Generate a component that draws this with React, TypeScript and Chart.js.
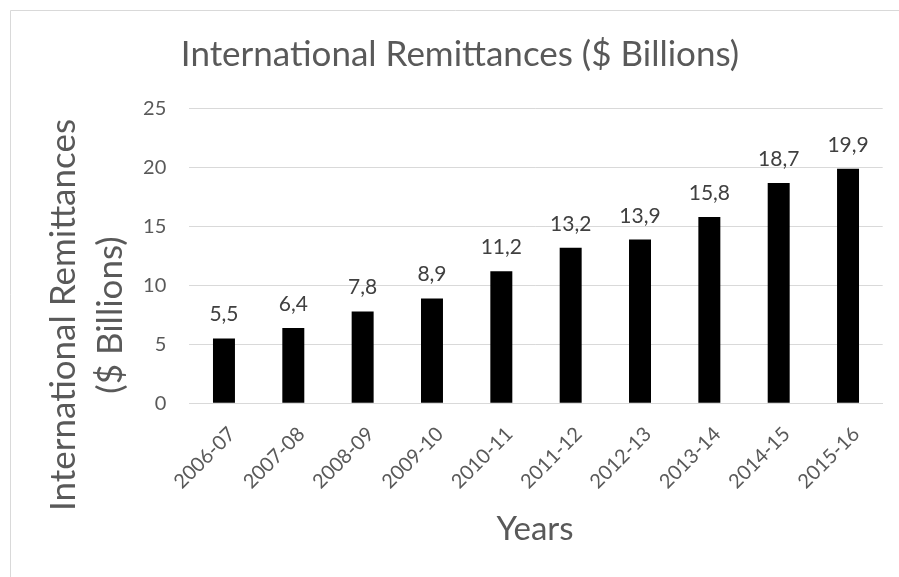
import React, { useEffect, useRef } from "react";
import { Chart, registerables } from "chart.js";

Chart.register(...registerables);

const categories = ["2006-07", "2007-08", "2008-09", "2009-10", "2010-11", "2011-12", "2012-13", "2013-14", "2014-15", "2015-16"];
const remittances = [5.5, 6.4, 7.8, 8.9, 11.2, 13.2, 13.9, 15.8, 18.7, 19.9];
const chartTitle = "International Remittances ($ Billions)";
const yTitleLines = ["International Remittances", "($ Billions)"];
const xTitle = "Years";

const FONT = "Lato, 'Open Sans', sans-serif";
const W = 899;
const H = 577;

export default function App() {
  const ref = useRef<HTMLCanvasElement | null>(null);

  useEffect(() => {
    const canvas = ref.current;
    if (!canvas) return;

    const framePlugin = {
      id: "frame",
      beforeDraw(chart: any) {
        const ctx = chart.ctx;
        ctx.save();
        ctx.fillStyle = "#ffffff";
        ctx.fillRect(0, 0, W, H);
        ctx.strokeStyle = "#d9d9d9";
        ctx.lineWidth = 1;
        ctx.beginPath();
        ctx.moveTo(10.5, H + 5);
        ctx.lineTo(10.5, 10.5);
        ctx.lineTo(W + 5, 10.5);
        ctx.stroke();
        ctx.restore();
      },
      afterDraw(chart: any) {
        const ctx = chart.ctx;
        ctx.save();
        ctx.fillStyle = "#595959";
        ctx.textAlign = "center";
        ctx.textBaseline = "alphabetic";
        ctx.font = `35px ${FONT}`;
        ctx.fillText(chartTitle, 460, 66);
        ctx.font = `33px ${FONT}`;
        ctx.fillText(xTitle, 535, 540);
        ctx.font = `35px ${FONT}`;
        const xs = [75, 122];
        yTitleLines.forEach((line, i) => {
          ctx.save();
          ctx.translate(xs[i], 315);
          ctx.rotate(-Math.PI / 2);
          ctx.fillText(line, 0, 0);
          ctx.restore();
        });
        ctx.restore();
      },
    };

    const labelPlugin = {
      id: "barLabels",
      afterDatasetsDraw(chart: any) {
        const ctx = chart.ctx;
        const meta = chart.getDatasetMeta(0);
        ctx.save();
        ctx.fillStyle = "#404040";
        ctx.font = `21px ${FONT}`;
        ctx.textAlign = "center";
        ctx.textBaseline = "alphabetic";
        meta.data.forEach((bar: any, i: number) => {
          const v = remittances[i];
          ctx.fillText(v.toFixed(1).replace(".", ","), bar.x, bar.y - 17);
        });
        ctx.restore();
      },
    };

    const chart = new Chart(canvas, {
      type: "bar",
      data: {
        labels: categories,
        datasets: [
          {
            data: remittances,
            backgroundColor: "#000000",
            borderWidth: 0,
            barPercentage: 0.317,
            categoryPercentage: 1,
          },
        ],
      },
      options: {
        responsive: false,
        animation: false,
        devicePixelRatio: 1,
        layout: { padding: { top: 108.7, right: 16.3, left: 0, bottom: 0 } },
        plugins: {
          legend: { display: false },
          title: { display: false },
          tooltip: { enabled: false },
        },
        scales: {
          x: {
            grid: { display: false, drawTicks: false },
            border: { display: true, color: "#d9d9d9", width: 1 },
            ticks: {
              color: "#595959",
              font: { family: FONT, size: 20 },
              minRotation: 45,
              maxRotation: 45,
              padding: 19,
              labelOffset: 8,
              autoSkip: false,
            },
            afterFit(scale: any) {
              scale.height = H - 403.3;
            },
          },
          y: {
            min: 0,
            max: 25,
            grid: { color: "#d9d9d9", drawTicks: false, lineWidth: 1 },
            border: { display: false },
            ticks: {
              stepSize: 5,
              color: "#595959",
              font: { family: FONT, size: 20 },
              padding: 23,
            },
            afterFit(scale: any) {
              scale.width = 189.3;
            },
          },
        },
      },
      plugins: [framePlugin, labelPlugin],
    });

    return () => chart.destroy();
  }, []);

  return (
    <div style={{ position: "absolute", left: 0, top: 0, width: W, height: H }}>
      <canvas ref={ref} width={W} height={H} style={{ width: W, height: H, display: "block" }} />
    </div>
  );
}
